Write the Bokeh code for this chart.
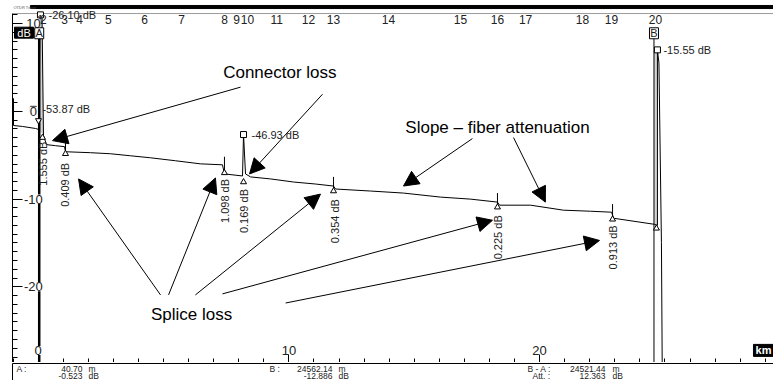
import math
from bokeh.plotting import figure
from bokeh.layouts import column
from bokeh.models import Range1d, LinearAxis, SingleIntervalTicker, Arrow, NormalHead
from bokeh.core.properties import value
from bokeh.embed import file_html
from bokeh.resources import INLINE

FONT = "Liberation Sans"

# ---------------- data ----------------
trace_km = [-0.985, -0.985, -0.626, -0.108, 0.03, 0.072, 0.152, 0.211, 0.331, 0.69, 1.049, 1.089,
            2.086, 2.884, 3.68, 4.48, 5.48, 6.47, 7.35, 7.43, 8.15, 8.19, 8.27, 8.47, 9.27, 10.18,
            11.06, 11.78, 11.86, 13.26, 14.57, 16.05, 17.24, 18.32, 18.40, 19.64, 20.95, 22.03,
            22.87, 22.95, 24.58, 24.70, 24.70, 24.76, 24.86, 24.90]
trace_db = [1.49, -1.61, -1.72, -1.95, -2.07, 11.03, 10.92, -2.76, -3.79, -3.91, -4.02, -4.60,
            -4.71, -4.83, -5.06, -5.29, -5.63, -5.98, -6.09, -7.13, -7.36, -2.64, -7.13, -7.47,
            -7.70, -8.05, -8.28, -8.51, -8.85, -9.08, -9.31, -9.77, -10.0, -10.34, -10.69, -10.69,
            -11.26, -11.38, -11.49, -12.18, -12.87, -12.99, 7.01, 5.52, -14.94, -33.0]

event_num = ["1", "2", "3", "4", "5", "6", "7", "8", "9", "10", "11", "12", "13", "14", "15",
             "16", "17", "18", "19", "20"]
event_num_km = [0.09, 0.21, 1.05, 1.65, 2.80, 4.24, 5.72, 7.43, 7.91, 8.35, 9.51, 10.78, 11.78,
                13.97, 16.84, 18.32, 19.44, 21.71, 22.87, 24.62]
event_num_db = 10.46

evt_km = [0.172, 1.089, 7.43, 8.19, 11.78, 18.32, 22.91, 24.66]
evt_db = [-2.99, -4.83, -7.01, -8.05, -9.08, -10.92, -12.30, -13.33]

tick_km = [1.089, 7.43, 11.78, 18.32, 22.91]
tick_top_db = [-3.6, -5.17, -7.47, -9.31, -10.57]
tick_bot_db = [-4.83, -7.01, -9.08, -10.92, -12.30]

loss_text = ["1.555 dB", "0.409 dB", "1.098 dB", "0.169 dB", "0.354 dB", "0.225 dB", "0.913 dB"]
loss_km = [0.19, 1.07, 7.47, 8.19, 11.82, 18.36, 22.93]
loss_top_db = [-3.45, -5.86, -7.70, -8.85, -10.0, -11.84, -12.99]

sq_km = [0.09, -0.19, 8.19, 24.70]
sq_db = [11.0, 0.23, -2.64, 7.01]
sq_text = ["-26.10 dB", "-53.87 dB", "-46.93 dB", "-15.55 dB"]
sq_text_km = [0.41, 0.17, 8.51, 24.94]

inv_tri_km = [0.012]
inv_tri_db = [-1.03]

y_ticks = [10, 0, -10, -20]
y_tick_labels = ["10", "0", "-10", "-20"]
y_label_km = -0.19
x_ticks = [0, 10, 20]
x_tick_labels = ["0", "10", "20"]
x_label_db = -27.24

cursor_names = ["A", "B"]
cursor_km = [0.0407, 24.56214]
cursor_box_db = 8.9
cursor_line_top_db = 8.3

ann_text = ["Connector loss", "Slope \u2013 fiber attenuation", "Splice loss"]
ann_km = [9.64, 18.32, 6.12]
ann_db = [4.48, -1.84, -23.1]
arrow_x0 = [8.07, 11.34, 17.32, 18.96, 4.88, 5.20, 6.27, 7.35, 9.87]
arrow_y0 = [2.76, 1.95, -3.10, -2.99, -20.92, -20.92, -20.92, -20.80, -21.84]
arrow_x1 = [0.57, 8.43, 14.57, 20.23, 1.61, 7.07, 11.26, 18.12, 22.39]
arrow_y1 = [-3.33, -7.13, -8.51, -10.34, -7.70, -7.59, -9.43, -12.41, -14.71]

# info panel
info_row_y = [1.34, 0.50]
info_labels = ["A :", "B :", "B - A :", "Att. :"]
info_label_km = [-0.866, 9.226, 19.52, 19.72]
info_label_row = [0, 0, 0, 1]
info_values = ["40.70", "24562.14", "24521.44", "-0.523", "-12.886", "12.363"]
info_value_km = [1.767, 11.74, 22.63, 1.767, 11.74, 22.63]
info_value_row = [0, 0, 0, 1, 1, 1]
info_units = ["m", "m", "m", "dB", "dB", "dB"]
info_unit_km = [2.006, 11.98, 22.91, 2.006, 11.98, 22.91]

X0, X1 = -1.025, 29.33
Y0, Y1 = -28.62, 12.18
FRAME_TOP_DB = 11.15
BAR_START_KM = -0.31
BAR_TOP_DB, BAR_BOTTOM_DB = 12.07, 11.72

# ---------------- main figure ----------------
p = figure(width=773, height=362, x_range=Range1d(X0, X1), y_range=Range1d(Y0, Y1),
           output_backend="svg", toolbar_location=None, x_axis_location=None, y_axis_location=None,
           min_border_left=12, min_border_right=0, min_border_top=4, min_border_bottom=0)
p.grid.visible = False
p.outline_line_color = None

left = LinearAxis(ticker=SingleIntervalTicker(interval=10, num_minor_ticks=10),
                  major_tick_in=10, major_tick_out=0, minor_tick_in=5, minor_tick_out=0,
                  major_label_text_font_size="0px", major_label_standoff=0,
                  axis_line_color="black", major_tick_line_color="black",
                  minor_tick_line_color="black", bounds=(Y0, FRAME_TOP_DB))
p.add_layout(left, "left")
bottom = LinearAxis(ticker=SingleIntervalTicker(interval=10, num_minor_ticks=10),
                    major_tick_in=8, major_tick_out=0, minor_tick_in=4, minor_tick_out=0,
                    major_label_text_font_size="0px", major_label_standoff=0,
                    axis_line_color="black", major_tick_line_color="black",
                    minor_tick_line_color="black")
p.add_layout(bottom, "below")

# header bar, tiny caption, grey frame line
p.quad(left=[BAR_START_KM], right=[X1], top=[BAR_TOP_DB], bottom=[BAR_BOTTOM_DB],
       fill_color="black", line_color="black")
p.text([-0.985], [11.84], text=["OTDR Trace"], text_align="left", text_baseline="middle",
       text_font=value(FONT), text_font_size="4px", text_color="#555555")
p.segment(x0=[X0], y0=[FRAME_TOP_DB], x1=[X1], y1=[FRAME_TOP_DB], line_color="#9a9a9a", line_width=1)

# grey fills of the reflective spikes
p.patch(trace_km[4:8], trace_db[4:8], fill_color="#d4d4d4", line_color=None)
p.patch([cursor_km[1], trace_km[42], trace_km[41], cursor_km[1]],
        [trace_db[42], trace_db[42], trace_db[41], trace_db[41]], fill_color="#d4d4d4", line_color=None)

# trace
p.line(trace_km, trace_db, line_color="black", line_width=1)

# cursors
p.segment(x0=[cursor_km[0]], y0=[cursor_line_top_db], x1=[cursor_km[0]], y1=[Y0],
          line_color="black", line_width=2.5)
p.segment(x0=[cursor_km[1]], y0=[cursor_line_top_db], x1=[cursor_km[1]], y1=[Y0],
          line_color="black", line_width=1)

# event ticks and markers
p.segment(x0=tick_km, y0=tick_top_db, x1=tick_km, y1=tick_bot_db, line_color="black", line_width=1)
p.scatter(evt_km, evt_db, marker="triangle", size=6, fill_color="white", line_color="black")
p.scatter(inv_tri_km, inv_tri_db, marker="inverted_triangle", size=6, fill_color="white", line_color="black")
p.scatter(sq_km, sq_db, marker="square", size=6, fill_color="white", line_color="black")

# loss labels (rotated)
p.text(loss_km, loss_top_db, text=loss_text, angle=math.pi / 2, text_align="right",
       text_baseline="middle", text_font=value(FONT), text_font_size="11px", text_color="#222222")
# marker value labels
p.text(sq_text_km, sq_db, text=sq_text, text_align="left", text_baseline="middle",
       text_font=value(FONT), text_font_size="11px", text_color="#222222")

# event numbers along the top
p.text(event_num_km, [event_num_db] * len(event_num), text=event_num, text_align="center",
       text_baseline="middle", text_font=value(FONT), text_font_size="12px", text_color="#222222")

# axis labels inside the plot
p.text([y_label_km] * len(y_ticks), y_ticks, text=y_tick_labels, text_align="center",
       text_baseline="middle", text_font=value(FONT), text_font_size="13px", text_color="#222222",
       background_fill_color="white")
p.text(x_ticks, [x_label_db] * len(x_ticks), text=x_tick_labels, text_align="center",
       text_baseline="middle", text_font=value(FONT), text_font_size="13px", text_color="#222222",
       background_fill_color="white")

# unit boxes
p.rect([-0.566], [8.97], width=19, height=11, width_units="screen", height_units="screen",
       fill_color="black", line_color="black")
p.text([-0.566], [8.97], text=["dB"], text_align="center", text_baseline="middle",
       text_font=value(FONT), text_font_size="11px", text_color="white")
p.rect([28.93], [x_label_db], width=20, height=12, width_units="screen", height_units="screen",
       fill_color="black", line_color="black")
p.text([28.93], [x_label_db], text=["km"], text_align="center", text_baseline="middle",
       text_font=value(FONT), text_font_size="11px", text_font_style="bold", text_color="white")
p.rect(cursor_km, [cursor_box_db] * 2, width=9, height=11, width_units="screen", height_units="screen",
       fill_color="white", line_color="black")
p.text(cursor_km, [cursor_box_db] * 2, text=cursor_names, text_align="center", text_baseline="middle",
       text_font=value(FONT), text_font_size="11px", text_color="#222222")

# annotations
p.text(ann_km, ann_db, text=ann_text, text_align="center", text_baseline="middle",
       text_font=value(FONT), text_font_size="17px", text_color="black")
for xs, ys, xe, ye in zip(arrow_x0, arrow_y0, arrow_x1, arrow_y1):
    p.add_layout(Arrow(end=NormalHead(size=15, fill_color="black", line_color="black"),
                       x_start=xs, y_start=ys, x_end=xe, y_end=ye,
                       line_color="black", line_width=1))

# ---------------- info panel ----------------
q = figure(width=773, height=18, x_range=p.x_range, y_range=Range1d(0, 1.9),
           output_backend="svg", toolbar_location=None, x_axis_location=None, y_axis_location=None,
           min_border_left=12, min_border_right=0, min_border_top=1, min_border_bottom=0)
q.grid.visible = False
q.outline_line_color = None
qa = LinearAxis(major_tick_in=0, major_tick_out=0, minor_tick_in=0, minor_tick_out=0,
                major_label_text_font_size="0px", major_label_standoff=0, axis_line_color="black",
                major_tick_line_color=None, minor_tick_line_color=None)
q.add_layout(qa, "left")
qt = LinearAxis(major_tick_in=0, major_tick_out=0, minor_tick_in=0, minor_tick_out=0,
                major_label_text_font_size="0px", major_label_standoff=0, axis_line_color="black",
                major_tick_line_color=None, minor_tick_line_color=None)
q.add_layout(qt, "above")

q.text(info_label_km, [info_row_y[r] for r in info_label_row], text=info_labels, text_align="left",
       text_baseline="middle", text_font=value(FONT), text_font_size="8.5px", text_color="#222222")
q.text(info_value_km, [info_row_y[r] for r in info_value_row], text=info_values, text_align="right",
       text_baseline="middle", text_font=value(FONT), text_font_size="8.5px", text_color="#222222")
q.text(info_unit_km, [info_row_y[r] for r in info_value_row], text=info_units, text_align="left",
       text_baseline="middle", text_font=value(FONT), text_font_size="8.5px", text_color="#222222")

layout = column(p, q, spacing=0)
open("out.html", "w").write(file_html(layout, INLINE))
